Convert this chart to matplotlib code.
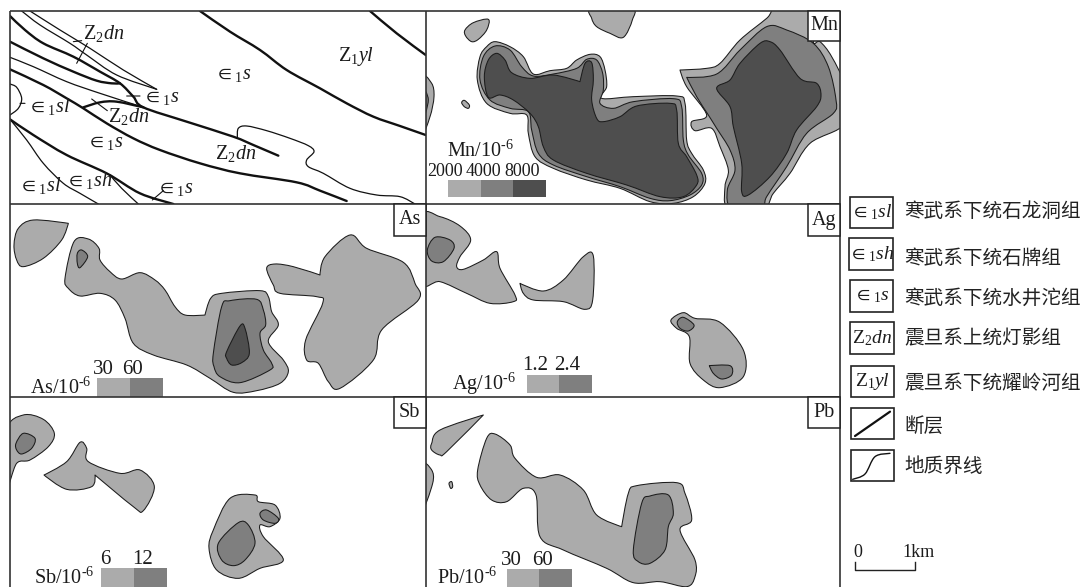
import matplotlib
matplotlib.use("Agg")
import matplotlib.pyplot as plt
from matplotlib.path import Path
from matplotlib.patches import PathPatch, Rectangle

plt.rcParams['font.family'] = ['Liberation Serif', 'DejaVu Serif']
plt.rcParams['mathtext.fontset'] = 'custom'
plt.rcParams['mathtext.rm'] = 'Liberation Serif'
plt.rcParams['mathtext.it'] = 'Liberation Serif:italic'
plt.rcParams['mathtext.bf'] = 'Liberation Serif:bold'
plt.rcParams['mathtext.fallback'] = 'stix'

LIGHT, MID, DARK = '#ABABAB', '#7F7F7F', '#4E4E4E'
INK = '#1c1c1c'

# ---- outlines (3x crop coordinates, with crop origin) ----
# a vertex written twice is a sharp corner
GEO = (0, 0)
faults = [
    [(600,33),(690,95),(780,150),(860,210),(960,265),(1040,310),(1120,350),(1200,378),(1277,405)],
    [(1110,33),(1190,100),(1277,165)],
    [(30,48),(75,90),(130,130),(220,170),(300,215),(360,250),(400,290),(430,322),(560,365),(700,410),(760,435),(835,467)],
    [(30,125),(130,175),(220,215),(290,242),(335,250),(360,250)],
    [(30,208),(130,255),(200,295),(250,325),(320,370),(400,415),(480,450),(600,490),(720,520),(890,547),(960,572),(1040,603)],
    [(250,322),(300,307),(350,305),(430,322)],
    [(30,358),(100,405),(200,465),(320,520),(420,580),(520,612)],
]
boundaries = [
    [(65,33),(120,75),(210,130),(260,165),(350,225),(470,268)],
    [(90,33),(180,90),(270,145),(370,210),(470,268)],
    [(30,172),(100,200),(200,245),(300,280),(430,322)],
    [(712,412),(715,385),(740,378),(800,392),(870,415),(925,437),(942,455),(920,480),(925,500),(970,520),(1050,565),(1130,585),(1200,590),(1245,612)],
    [(30,358),(80,420),(130,490),(190,550),(240,580),(295,612)],
    [(330,525),(365,565),(415,612)],
    [(30,252),(50,262),(65,295),(55,325),(30,345)],
]
dip_ticks = [
    [(220,125),(245,122)], [(262,130),(230,190)], [(380,288),(420,288)],
    [(275,297),(322,332)], [(60,310),(75,310)], [(457,600),(490,572)],
]
geo_labels = [
    (312,102,r'$\mathrm{Z}_{2}\mathit{dn}$'), (1067,170,r'$\mathrm{Z}_{1}\mathit{yl}$'),
    (700,225,r'$\in_{1}\mathit{s}$'), (485,292,r'$\in_{1}\mathit{s}$'),
    (147,320,r'$\in_{1}\mathit{sl}$'), (385,350,r'$\mathrm{Z}_{2}\mathit{dn}$'),
    (317,428,r'$\in_{1}\mathit{s}$'), (708,460,r'$\mathrm{Z}_{2}\mathit{dn}$'),
    (120,555,r'$\in_{1}\mathit{sl}$'), (268,542,r'$\in_{1}\mathit{sh}$'),
    (527,565,r'$\in_{1}\mathit{s}$'),
]

MN = (420, 0)
mn_shapes = [
    (LIGHT, [(135,90),(160,68),(205,58),(200,90),(175,118),(155,125),(137,108)]),
    (LIGHT, [(515,25),(635,25),(637,60),(610,112),(570,100),(530,80),(515,55)]),
    (LIGHT, [(125,308),(133,301),(148,315),(145,325),(133,320)]),
    (LIGHT, [(5,235),(35,250),(42,290),(30,350),(5,400)]),
    (MID,   [(5,265),(25,300),(5,365)]),
    (LIGHT, [(172,240),(180,170),(200,140),(225,125),(270,140),(310,170),(340,222),(390,212),(440,205),(470,180),(510,163),(540,170),(555,210),(560,260),(545,295),(640,290),(770,288),(795,310),(800,420),(815,460),(850,510),(855,550),(820,590),(760,610),(690,605),(600,565),(500,540),(400,505),(345,470),(325,400),(320,345),(270,340),(200,310)]),
    (MID,   [(180,240),(190,170),(225,138),(270,150),(305,200),(340,228),(400,222),(470,205),(500,178),(530,180),(548,220),(550,270),(540,310),(580,325),(640,305),(760,296),(785,320),(790,420),(805,465),(845,520),(845,555),(810,585),(750,602),(690,595),(600,560),(500,530),(400,495),(355,460),(335,390),(325,335),(270,325),(210,300)]),
    (DARK,  [(193,230),(205,180),(230,160),(255,180),(275,218),(330,235),(400,225),(480,245),(480,245),(495,190),(515,188),(520,240),(515,300),(530,355),(550,365),(600,350),(650,318),(750,310),(770,330),(775,430),(800,470),(830,525),(830,555),(790,590),(720,590),(620,555),(500,520),(400,480),(370,440),(355,380),(330,340),(280,300),(240,285),(205,292)]),
    (LIGHT, [(780,210),(780,210),(860,205),(900,190),(960,120),(1040,55),(1070,25),(1180,25),(1180,125),(1200,125),(1235,170),(1275,260),(1275,370),(1170,430),(1110,520),(1060,580),(1030,625),(925,625),(915,560),(925,510),(900,440),(875,385),(825,392),(815,365),(860,345),(800,260)]),
    (MID,   [(800,232),(800,232),(890,222),(960,150),(1040,80),(1100,90),(1180,130),(1225,200),(1248,300),(1240,340),(1160,400),(1100,500),(1040,590),(1025,625),(935,625),(922,570),(945,510),(930,450),(890,385),(865,345),(830,290)]),
    (DARK,  [(890,265),(930,240),(960,190),(1020,130),(1050,125),(1080,150),(1140,235),(1190,250),(1203,285),(1190,320),(1130,390),(1100,460),(1050,530),(985,585),(965,575),(965,490),(940,380),(930,320)]),
]

AS = (0, 200)
as_shapes = [
    (LIGHT, [(42,135),(55,85),(100,60),(205,70),(205,70),(185,120),(130,175),(70,200),(50,180)]),
    (LIGHT, [(195,235),(222,125),(265,117),(297,145),(300,180),(330,215),(365,237),(420,218),(465,240),(495,270),(525,320),(555,345),(615,345),(615,345),(632,295),(665,280),(780,272),(805,290),(815,335),(835,375),(805,425),(850,480),(865,515),(840,550),(770,572),(700,577),(630,535),(560,495),(460,465),(400,430),(375,355),(345,300),(300,280),(240,288),(205,265)]),
    (MID,   [(232,160),(245,150),(263,170),(240,203),(232,190)]),
    (MID,   [(640,460),(665,320),(690,302),(770,298),(790,330),(797,375),(780,400),(790,450),(815,490),(810,510),(720,548),(660,530),(642,500)]),
    (DARK,  [(680,455),(720,378),(735,385),(748,460),(725,488),(695,495),(680,475)]),
    (LIGHT, [(800,205),(825,192),(880,200),(960,225),(960,225),(975,170),(1050,105),(1100,145),(1210,187),(1245,250),(1255,300),(1145,390),(1120,480),(1020,565),(985,545),(955,490),(920,480),(917,420),(968,310),(950,290),(840,280),(820,255)]),
]

AG = (420, 200)
ag_shapes = [
    (LIGHT, [(5,50),(60,50),(120,78),(152,120),(120,170),(110,200),(130,208),(190,180),(230,155),(240,205),(285,285),(280,305),(210,310),(140,280),(60,245),(5,247)]),
    (MID,   [(22,150),(45,112),(90,120),(102,145),(70,185),(35,183)]),
    (LIGHT, [(300,250),(300,250),(370,273),(430,240),(490,170),(520,168),(518,300),(495,328),(430,305),(340,300),(310,280)]),
    (LIGHT, [(753,360),(790,338),(825,355),(900,367),(970,450),(970,530),(900,563),(850,540),(810,490),(808,410),(770,385)]),
    (MID,   [(772,365),(790,352),(822,375),(805,393),(780,385)]),
    (MID,   [(868,497),(868,497),(930,497),(935,525),(905,537),(880,520)]),
]

SB = (0, 390)
sb_shapes = [
    (LIGHT, [(20,120),(70,75),(130,88),(163,130),(145,170),(90,210),(50,220),(20,290)]),
    (MID,   [(48,160),(70,130),(105,145),(95,175),(65,192),(50,180)]),
    (LIGHT, [(132,255),(132,255),(200,215),(240,157),(260,175),(265,215),(360,250),(420,240),(463,290),(430,362),(400,350),(285,255),(285,255),(275,290),(200,298)]),
    (LIGHT, [(627,475),(640,420),(690,325),(765,315),(775,335),(825,345),(840,385),(810,410),(780,405),(790,440),(850,510),(780,535),(715,565),(650,540)]),
    (MID,   [(655,460),(715,398),(745,405),(765,460),(735,510),(700,527),(665,510)]),
    (MID,   [(780,370),(800,360),(835,385),(825,400),(790,390)]),
]

PB = (420, 390)
pb_shapes = [
    (LIGHT, [(35,160),(60,120),(190,75),(190,75),(80,185),(60,195),(35,180)]),
    (LIGHT, [(87,280),(95,275),(98,290),(92,295)]),
    (LIGHT, [(5,225),(35,240),(38,280),(5,360)]),
    (LIGHT, [(173,240),(200,145),(225,132),(270,165),(285,205),(350,262),(420,255),(490,300),(530,375),(605,410),(605,410),(625,310),(650,287),(770,278),(795,310),(815,390),(780,420),(825,510),(825,560),(800,590),(720,575),(640,578),(560,535),(430,480),(360,440),(348,315),(310,295),(260,335),(215,330),(180,285)]),
    (MID,   [(640,480),(665,340),(690,318),(745,315),(760,370),(745,410),(735,480),(690,520),(655,515)]),
]

# panel frames: x0, y0, x1, y1 in pixels
panel_geo = (10, 11, 425.5, 204)
panel_mn = (425.5, 11, 840, 204)
panel_as = (10, 204, 425.5, 397)
panel_ag = (425.5, 204, 840, 397)
panel_sb = (10, 397, 425.5, 590)
panel_pb = (425.5, 397, 840, 590)

tags = [('Mn', 808, 11, 840, 41), ('As', 394, 204, 425.5, 236), ('Ag', 808, 204, 840, 236),
        ('Sb', 394, 397, 425.5, 428), ('Pb', 808, 397, 840, 428)]

EXP = r'/10$^{\text{-}6}$'
# colour keys: origin, swatch edges, y range, colours, class labels (x, y), title (x, baseline y, text)
keys = [
    (MN, [85,182,280,378], (540,590), [LIGHT,MID,DARK], [(75,515,'2000'),(190,515,'4000'),(305,515,'8000')], (182,470,'Mn' + EXP)),
    (AS, [292,391,490], (535,590), [LIGHT,MID], [(310,507,'30'),(398,507,'60')], (183,580,'As' + EXP)),
    (AG, [320,418,517], (525,578), [LIGHT,MID], [(345,495,'1.2'),(442,495,'2.4')], (192,570,'Ag' + EXP)),
    (SB, [303,403,501], (535,590), [LIGHT,MID], [(317,510,'6'),(428,510,'12')], (193,581,'Sb' + EXP)),
    (PB, [262,358,456], (537,590), [LIGHT,MID], [(275,512,'30'),(368,512,'60')], (143,581,'Pb' + EXP)),
]

LEG = (840, 190)
legend_boxes = [(30,20,160,115),(28,145,160,240),(30,270,160,365),(30,397,162,492),(32,528,162,622),(32,655,162,748),(32,780,162,873)]
legend_symbols = [r'$\in_{1}\mathit{sl}$', r'$\in_{1}\mathit{sh}$', r'$\in_{1}\mathit{s}$',
                  r'$\mathrm{Z}_{2}\mathit{dn}$', r'$\mathrm{Z}_{1}\mathit{yl}$']
legend_names = ['寒武系下统石龙洞组', '寒武系下统石牌组', '寒武系下统水井沱组', '震旦系上统灯影组',
                '震旦系下统耀岭河组', '断层', '地质界线']
legend_name_y = [65, 205, 325, 445, 580, 710, 830]
fault_sample = [(45,738),(150,665)]
boundary_sample = [(38,868),(75,852),(105,800),(150,790)]
scale_bar = [(45,1117),(45,1140),(225,1140),(225,1117)]

# ---- drawing ----
fig = plt.figure(figsize=(10.83, 5.87), dpi=100, facecolor='white')
ax = fig.add_axes([0, 0, 1, 1])
ax.set_xlim(0, 1083)
ax.set_ylim(587, 0)
ax.axis('off')


def px(origin, p):
    return origin[0] + p[0] / 3, origin[1] + p[1] / 3


def smooth_path(pts, closed):
    """Cubic path through the read vertices; doubled vertices stay sharp corners."""
    n = len(pts)

    def tangent(i):
        if closed:
            prev, cur, nxt = pts[(i - 1) % n], pts[i], pts[(i + 1) % n]
        else:
            prev, cur, nxt = pts[max(i - 1, 0)], pts[i], pts[min(i + 1, n - 1)]
        if prev == cur or nxt == cur:
            if closed or 0 < i < n - 1:
                return (0.0, 0.0)
        return ((nxt[0] - prev[0]) / 6, (nxt[1] - prev[1]) / 6)

    verts, codes = [pts[0]], [Path.MOVETO]
    last = n if closed else n - 1
    for i in range(last):
        j = (i + 1) % n
        p1, p2 = pts[i], pts[j]
        if p1 == p2:
            continue
        t1, t2 = tangent(i), tangent(j)
        verts += [(p1[0] + t1[0], p1[1] + t1[1]), (p2[0] - t2[0], p2[1] - t2[1]), p2]
        codes += [Path.CURVE4] * 3
    if closed:
        verts.append(pts[0])
        codes.append(Path.CLOSEPOLY)
    return Path(verts, codes)


def clip_rect(panel):
    return Rectangle((panel[0], panel[1]), panel[2] - panel[0], panel[3] - panel[1],
                     transform=ax.transData, fill=False, lw=0)


def draw_shapes(origin, shapes, panel):
    for colour, outline in shapes:
        pts = [px(origin, p) for p in outline]
        patch = PathPatch(smooth_path(pts, True), facecolor=colour, edgecolor=INK, lw=0.75,
                          joinstyle='round', zorder=2)
        ax.add_patch(patch)
        patch.set_clip_path(clip_rect(panel))


def draw_line(origin, line, lw, panel=None, z=3):
    pts = [px(origin, p) for p in line]
    patch = PathPatch(smooth_path(pts, False), facecolor='none', edgecolor='#111111', lw=lw,
                      zorder=z, capstyle='round')
    ax.add_patch(patch)
    if panel:
        patch.set_clip_path(clip_rect(panel))


for f in faults:
    draw_line(GEO, f, 1.7, panel_geo)
for b in boundaries:
    draw_line(GEO, b, 0.9, panel_geo)
for t in dip_ticks:
    draw_line(GEO, t, 0.8, panel_geo)
for x, y, s in geo_labels:
    xx, yy = px(GEO, (x, y))
    ax.text(xx, yy, s, fontsize=14.5, ha='center', va='center', color=INK, zorder=5)

draw_shapes(MN, mn_shapes, panel_mn)
draw_shapes(AS, as_shapes, panel_as)
draw_shapes(AG, ag_shapes, panel_ag)
draw_shapes(SB, sb_shapes, panel_sb)
draw_shapes(PB, pb_shapes, panel_pb)

for origin, edges, yr, colours, labels, title in keys:
    y0 = origin[1] + yr[0] / 3
    h = (yr[1] - yr[0]) / 3
    for e0, e1, c in zip(edges[:-1], edges[1:], colours):
        x0 = origin[0] + e0 / 3
        ax.add_patch(Rectangle((x0, y0), (e1 - e0) / 3, h, facecolor=c, edgecolor='none', zorder=4))
    for x, y, s in labels:
        xx, yy = px(origin, (x, y))
        size = 13 if len(s) == 4 else 15
        ax.text(xx, yy, s, fontsize=size, ha='center', va='center', color=INK, zorder=5)
    xx, yy = px(origin, title[:2])
    ax.text(xx, yy, title[2], fontsize=14.5, ha='center', va='baseline', color=INK, zorder=5)

# frames
for xs, ys in [((10, 840), (11, 11)), ((10, 840), (204, 204)), ((10, 840), (397, 397)),
               ((10, 10), (11, 587)), ((425.5, 425.5), (11, 587)), ((840, 840), (11, 587))]:
    ax.plot(xs, ys, color='#333333', lw=1.2, zorder=6, solid_capstyle='butt')

for name, x0, y0, x1, y1 in tags:
    ax.add_patch(Rectangle((x0, y0), x1 - x0, y1 - y0, facecolor='white', edgecolor='#222222', lw=1.1, zorder=7))
    ax.text((x0 + x1) / 2, (y0 + y1) / 2, name, fontsize=14.5, ha='center', va='center', color=INK, zorder=8)

# legend
for i, box in enumerate(legend_boxes):
    x0, y0 = px(LEG, box[:2])
    x1, y1 = px(LEG, box[2:])
    ax.add_patch(Rectangle((x0, y0), x1 - x0, y1 - y0, facecolor='white', edgecolor='#222222', lw=1.2, zorder=4))
    if i < len(legend_symbols):
        ax.text((x0 + x1) / 2, (y0 + y1) / 2, legend_symbols[i], fontsize=14, ha='center', va='center',
                color=INK, zorder=5)
for name, y in zip(legend_names, legend_name_y):
    xx, yy = px(LEG, (193, y))
    ax.text(xx, yy, name, fontsize=14.1, ha='left', va='center', color='#222222',
            family=['Noto Sans CJK SC', 'DejaVu Sans'], zorder=5)
draw_line(LEG, fault_sample, 1.6, z=5)
draw_line(LEG, boundary_sample, 1.0, z=5)

pts = [px(LEG, p) for p in scale_bar]
ax.plot([p[0] for p in pts], [p[1] for p in pts], color='#222222', lw=1.0, zorder=5)
xx, yy = px(LEG, (52, 1087))
ax.text(xx, yy, '0', fontsize=13, ha='center', va='center', color=INK)
xx, yy = px(LEG, (237, 1087))
ax.text(xx, yy, '1km', fontsize=13, ha='center', va='center', color=INK)

fig.savefig('out.png', dpi=100, facecolor='white')
